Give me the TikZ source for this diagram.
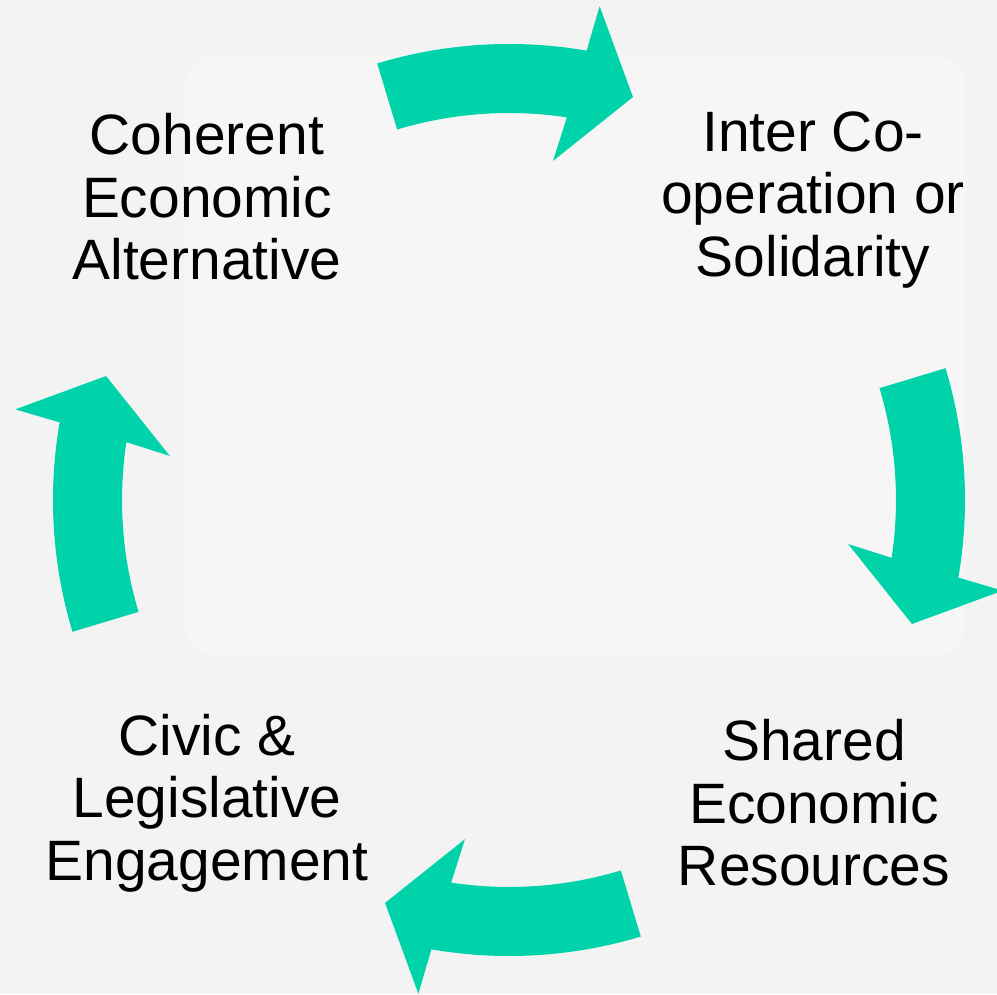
\documentclass[tikz,border=0pt]{standalone}
\usepackage{fontspec}
\setmainfont{Liberation Sans}
\definecolor{cycleteal}{RGB}{0,210,170}
\definecolor{backgray}{RGB}{243,243,243}
\definecolor{backlight}{RGB}{246,246,246}
\begin{document}
\begin{tikzpicture}[
		label text/.style={align=center, font=\fontsize{16.2}{17.8}\selectfont},
		cycle arrow/.style={fill=cycleteal}]
		\useasboundingbox (0,0) rectangle (9.97,-9.94);
		\fill[backgray] (0,0) rectangle (9.97,-9.94);
		\fill[backlight, rounded corners=0.3cm] (1.85,-0.55) rectangle (9.65,-6.55);
		\coordinate (C) at (5.09,-5.00);
		% four curved arrows round the centre
		\foreach \k in {0,1,2,3}
			\fill[cycle arrow, shift={(C)}, rotate=-90*\k] (106.8:4.56) arc[start angle=106.8, end angle=80.2, radius=4.56] -- (79.6:5.02) -- (72.9:4.216) -- (82.6:3.42) -- (81.4:3.87) arc[start angle=81.4, end angle=106.8, radius=3.87] -- cycle;
		\node[label text] (coherent) at (2.07,-1.97) {Coherent\\Economic\\Alternative};
		\node[label text] (interco) at (8.13,-2.0) {Inter Co-\\operation or\\Solidarity};
		\node[label text] (shared) at (8.14,-8.03) {Shared\\Economic\\Resources};
		\node[label text] (civic) at (2.07,-8.03) {Civic \&\\Legislative\\Engagement};
	\end{tikzpicture}
\end{document}
